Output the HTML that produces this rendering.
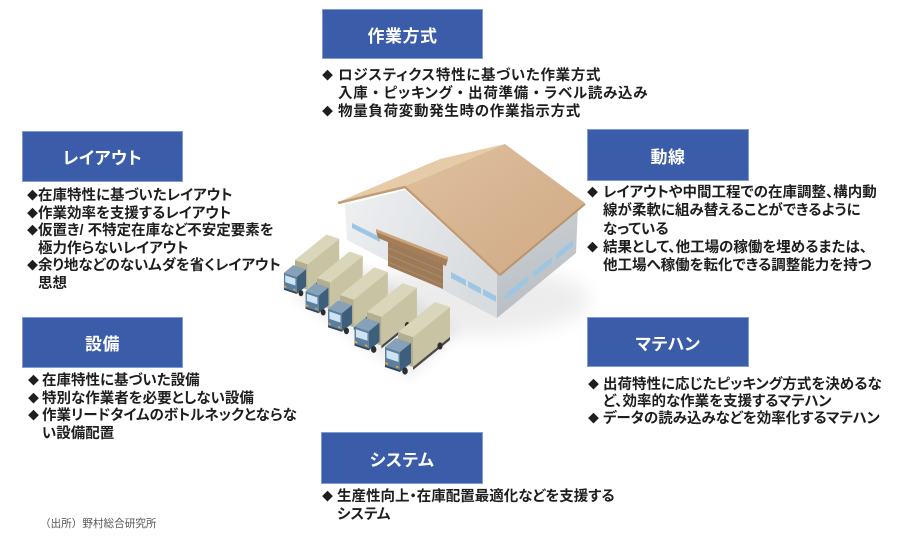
<!DOCTYPE html>
<html><head><meta charset="utf-8">
<style>
html,body{margin:0;padding:0;background:#fff;}
body{width:900px;height:544px;position:relative;overflow:hidden;font-family:"Liberation Sans","Noto Sans CJK JP",sans-serif;}
svg.art{position:absolute;left:0;top:0;}
.box{position:absolute;background:#3b5ca9;border:1px solid #809cd4;box-sizing:border-box;color:#fff;font-size:17px;font-weight:bold;display:flex;align-items:center;justify-content:center;font-feature-settings:"palt";letter-spacing:0.5px;font-family:"Liberation Sans","Noto Sans CJK JP",sans-serif;}
.t{position:absolute;font-size:14.5px;font-weight:bold;color:#1e1e1e;white-space:nowrap;font-feature-settings:"palt";font-family:"Liberation Sans","Noto Sans CJK JP",sans-serif;}
.t div{position:relative;}
.t .b{position:absolute;top:0;font-size:11px;font-feature-settings:normal;letter-spacing:0;}
.t .d{font-feature-settings:normal;}
.src{position:absolute;left:40px;top:516px;font-size:10.6px;color:#555;white-space:nowrap;font-family:"Liberation Sans","Noto Sans CJK JP",sans-serif;}
</style></head>
<body>
<svg class="art" width="900" height="544" viewBox="0 0 900 544" xmlns="http://www.w3.org/2000/svg">
  <defs>
    <filter id="blur" x="-50%" y="-50%" width="200%" height="200%"><feGaussianBlur stdDeviation="10"/></filter>
    <filter id="blur2" x="-50%" y="-50%" width="200%" height="200%"><feGaussianBlur stdDeviation="6"/></filter>
    <linearGradient id="roofR" x1="0" y1="0" x2="1" y2="1">
      <stop offset="0" stop-color="#dfc09e"/>
      <stop offset="1" stop-color="#cfa984"/>
    </linearGradient>
    <linearGradient id="wallF" x1="0" y1="0" x2="1" y2="0.4">
      <stop offset="0" stop-color="#eef0f2"/>
      <stop offset="1" stop-color="#d9dcdf"/>
    </linearGradient>
    <linearGradient id="wallR" x1="0" y1="0" x2="0.3" y2="1">
      <stop offset="0" stop-color="#ced2d6"/>
      <stop offset="1" stop-color="#b9bec4"/>
    </linearGradient>
    <g id="truck">
      <polygon points="0,0 15,5 15,35 0,30" fill="#b3ae8f"/>
      <polygon points="15,5 52,-25 52,5 15,35" fill="#c8c3a3"/>
      <polygon points="0,0 37,-30 52,-25 15,5" fill="#dad6ba"/>
      <polygon points="15,35 52,5 52,8 15,38" fill="#4a4a4a"/>
      <ellipse cx="42" cy="14" rx="2.6" ry="3.6" fill="#2e2e2e"/>
      <polygon points="-13,15 -2,6 13,11 2,20" fill="#86a1b8"/>
      <polygon points="2,20 13,11 13,31 2,40" fill="#3e5f7c"/>
      <polygon points="-13,15 2,20 2,40 -13,35" fill="#5c7f9e"/>
      <polygon points="-11.5,18 0.5,22 0.5,30 -11.5,26" fill="#cfe4f3"/>
      <polygon points="-13,33 2,38 2,40 -13,35" fill="#2f4760"/>
      <polygon points="-12.5,30 -10,31 -10,33 -12.5,32" fill="#f0a030"/>
      <polygon points="-2,33.5 0.5,34.5 0.5,36.5 -2,35.5" fill="#f0a030"/>
      <ellipse cx="7" cy="39" rx="2.8" ry="3.6" fill="#2e2e2e"/>
    </g>
  </defs>

  <!-- ground shadow -->
  <ellipse cx="470" cy="300" rx="120" ry="35" fill="#000" opacity="0.07" filter="url(#blur)"/>
  <polygon points="290,295 345,255 460,330 410,380" fill="#000" opacity="0.06" filter="url(#blur2)"/>

  <!-- warehouse walls -->
  <polygon points="345,205 405,190 497,274 497,318 347,240" fill="url(#wallF)"/>
  <polygon points="497,274 578,207 576,253 497,318" fill="url(#wallR)"/>
  <!-- windows front -->
  <polygon points="352,223 380,237 380,242 352,228" fill="#9cc6e4"/>
  <polygon points="451,272 466,280 466,286 451,278" fill="#9cc6e4"/>
  <polygon points="468,281 481,288 481,294 468,287" fill="#9cc6e4"/>
  <polygon points="483,289 496,296 496,302 483,295" fill="#9cc6e4"/>
  <!-- windows right wall -->
  <polygon points="505,294 528,276 528,282 505,300" fill="#9cc6e4"/>
  <polygon points="533,272 552,257 552,263 533,278" fill="#9cc6e4"/>
  <polygon points="556,254 573,240 573,246 556,260" fill="#9cc6e4"/>
  <!-- door -->
  <polygon points="388,241 443,264 443,289 388,266" fill="#9e7b58"/>
  <line x1="388" y1="248" x2="443" y2="271" stroke="#ad8a66" stroke-width="1"/>
  <line x1="388" y1="255" x2="443" y2="278" stroke="#ad8a66" stroke-width="1"/>
  <line x1="388" y1="262" x2="443" y2="285" stroke="#ad8a66" stroke-width="1"/>
  <!-- canopy -->
  <polygon points="376,231 448,259 446,266 378,238" fill="#a47e58"/>
  <polygon points="376,229 448,257 448,260 376,232" fill="#c9a47a"/>
  <!-- roof -->
  <polygon points="338,202 405,186 505,144 440,159" fill="#e6cba9"/>
  <polygon points="405,186 505,144 585,203 500,274" fill="url(#roofR)"/>
  <polyline points="338,203 405,187 500,275" fill="none" stroke="#c29c76" stroke-width="2.5"/>
  <line x1="500" y1="275" x2="585" y2="204" stroke="#bb936c" stroke-width="2"/>

  <!-- trucks -->
  <use href="#truck" transform="translate(295,260) scale(0.85)"/>
  <use href="#truck" transform="translate(317,278) scale(0.88)"/>
  <use href="#truck" transform="translate(340,295) scale(0.92)"/>
  <use href="#truck" transform="translate(367,312) scale(0.96)"/>
  <use href="#truck" transform="translate(398,332) scale(1)"/>
</svg>

<div class="box" style="left:322px;top:9px;width:161px;height:50px;">作業方式</div>
<div class="box" style="left:22px;top:131px;width:161px;height:51px;">レイアウト</div>
<div class="box" style="left:587px;top:129px;width:162px;height:52px;">動線</div>
<div class="box" style="left:22px;top:317px;width:161px;height:51px;">設備</div>
<div class="box" style="left:587px;top:317px;width:162px;height:50px;">マテハン</div>
<div class="box" style="left:321px;top:432px;width:162px;height:52px;">システム</div>

<div class="t" style="left:338px;top:67px;line-height:18px;letter-spacing:0.7px;">
  <div><span class="b" style="left:-16px;">◆</span>ロジスティクス特性に基づいた作業方式</div>
  <div>入庫<span class="d">・</span>ピッキング<span class="d">・</span>出荷準備<span class="d">・</span>ラベル読み込み</div>
  <div><span class="b" style="left:-16px;">◆</span>物量負荷変動発生時の作業指示方式</div>
</div>

<div class="t" style="left:38px;top:188px;line-height:17.6px;">
  <div><span class="b" style="left:-11px;">◆</span>在庫特性に基づいたレイアウト</div>
  <div><span class="b" style="left:-11px;">◆</span>作業効率を支援するレイアウト</div>
  <div><span class="b" style="left:-11px;">◆</span>仮置き/ 不特定在庫など不安定要素を</div>
  <div>極力作らないレイアウト</div>
  <div><span class="b" style="left:-11px;">◆</span>余り地などのないムダを省くレイアウト</div>
  <div>思想</div>
</div>

<div class="t" style="left:603px;top:184px;line-height:18.3px;">
  <div><span class="b" style="left:-16px;">◆</span>レイアウトや中間工程での在庫調整、構内動</div>
  <div>線が柔軟に組み替えることができるように</div>
  <div>なっている</div>
  <div><span class="b" style="left:-16px;">◆</span>結果として、他工場の稼働を埋めるまたは、</div>
  <div>他工場へ稼働を転化できる調整能力を持つ</div>
</div>

<div class="t" style="left:42px;top:373px;line-height:17.7px;">
  <div><span class="b" style="left:-14px;">◆</span>在庫特性に基づいた設備</div>
  <div><span class="b" style="left:-14px;">◆</span>特別な作業者を必要としない設備</div>
  <div><span class="b" style="left:-14px;">◆</span>作業リードタイムのボトルネックとならな</div>
  <div>い設備配置</div>
</div>

<div class="t" style="left:603px;top:376.5px;line-height:17px;">
  <div><span class="b" style="left:-15px;">◆</span>出荷特性に応じたピッキング方式を決めるな</div>
  <div>ど、効率的な作業を支援するマテハン</div>
  <div><span class="b" style="left:-15px;">◆</span>データの読み込みなどを効率化するマテハン</div>
</div>

<div class="t" style="left:337px;top:488px;line-height:18px;">
  <div><span class="b" style="left:-15px;">◆</span>生産性向上・在庫配置最適化などを支援する</div>
  <div>システム</div>
</div>

<div class="src">（出所）野村総合研究所</div>
</body></html>
